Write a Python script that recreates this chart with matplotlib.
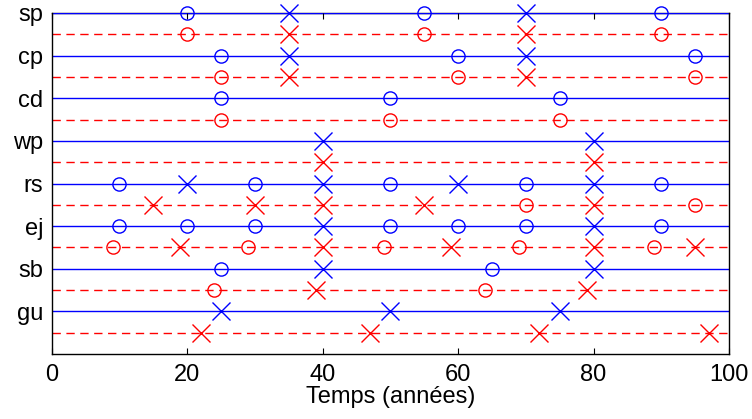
import matplotlib
matplotlib.use("Agg")
import matplotlib.pyplot as plt

categories = ["sp", "cp", "cd", "wp", "rs", "ej", "sb", "gu"]

# event times for each category (blue = solid line row, red = dashed line row)
blue_circles = [
    [20, 55, 90],
    [25, 60, 95],
    [25, 50, 75],
    [],
    [10, 30, 50, 70, 90],
    [10, 20, 30, 50, 60, 70, 90],
    [25, 65],
    [],
]
blue_crosses = [
    [35, 70],
    [35, 70],
    [],
    [40, 80],
    [20, 40, 60, 80],
    [40, 80],
    [40, 80],
    [25, 50, 75],
]
red_circles = [
    [20, 55, 90],
    [25, 60, 95],
    [25, 50, 75],
    [],
    [70, 95],
    [9, 29, 49, 69, 89],
    [24, 64],
    [],
]
red_crosses = [
    [35, 70],
    [35, 70],
    [],
    [40, 80],
    [15, 30, 40, 55, 80],
    [19, 40, 59, 80, 95],
    [39, 79],
    [22, 47, 72, 97],
]

x_ticks = [0, 20, 40, 60, 80, 100]
x_label = "Temps (années)"

plt.rcParams["font.family"] = ["Liberation Sans", "DejaVu Sans"]

fig = plt.figure(figsize=(7.52, 4.19), dpi=100)
ax = fig.add_axes([0.0688, 0.155, 0.9006, 0.814])

n = len(categories)
blue = "#0000ff"
red = "#ff0000"
for i, cat in enumerate(categories):
    yb = n - i
    yr = yb - 0.5
    ax.axhline(yb, color=blue, lw=1.0, zorder=1)
    ax.axhline(yr, color=red, lw=1.0, ls=(0, (6, 4)), zorder=1)
    if blue_circles[i]:
        ax.plot(blue_circles[i], [yb] * len(blue_circles[i]), ls="none", marker="o",
                ms=9.5, mfc="none", mec=blue, mew=1.0, zorder=3, clip_on=False)
    if blue_crosses[i]:
        ax.plot(blue_crosses[i], [yb] * len(blue_crosses[i]), ls="none", marker="x",
                ms=13, mec=blue, mew=1.0, zorder=3, clip_on=False)
    if red_circles[i]:
        ax.plot(red_circles[i], [yr] * len(red_circles[i]), ls="none", marker="o",
                ms=9.5, mfc="none", mec=red, mew=1.0, zorder=3, clip_on=False)
    if red_crosses[i]:
        ax.plot(red_crosses[i], [yr] * len(red_crosses[i]), ls="none", marker="x",
                ms=13, mec=red, mew=1.0, zorder=3, clip_on=False)

ax.set_xlim(0, 100)
ax.set_ylim(0, n)
ax.set_xticks(x_ticks)
ax.set_xticklabels([str(t) for t in x_ticks], fontsize=17)
ax.set_yticks(list(range(n, 0, -1)))
ax.set_yticklabels(categories, fontsize=17)
ax.tick_params(direction="in", top=True, right=False, length=4, width=0.8)
ax.tick_params(axis="x", pad=7)
ax.tick_params(axis="y", length=0, pad=6)
ax.set_xlabel(x_label, fontsize=17, labelpad=0)
for s in ax.spines.values():
    s.set_linewidth(1.0)
    s.set_color("black")
ax.spines["top"].set_zorder(0)

fig.savefig("out.png", dpi=100)
